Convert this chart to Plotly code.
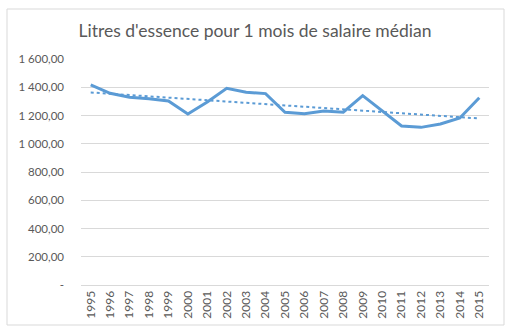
import numpy as np
import plotly.graph_objects as go

years = [str(y) for y in range(1995, 2016)]
litres = [1416, 1357, 1329, 1319, 1303, 1211, 1295, 1392, 1364, 1355, 1223, 1213,
          1232, 1223, 1341, 1232, 1126, 1116, 1140, 1182, 1326]
ytick_vals = [0, 200, 400, 600, 800, 1000, 1200, 1400, 1600]
ytick_text = ["-", "200,00", "400,00", "600,00", "800,00", "1 000,00", "1 200,00", "1 400,00", "1 600,00"]
title = "Litres d'essence pour 1 mois de salaire médian"

idx = np.arange(len(litres))
coef = np.polyfit(idx, litres, 1)
trend = np.polyval(coef, idx)

W, H = 517, 334
ml, mr, mt, mb = 81, 28, 59, 49
pw, ph = W - ml - mr, H - mt - mb

fig = go.Figure()
fig.add_trace(go.Scatter(x=years, y=litres, mode="lines",
                         line=dict(color="#5B9BD5", width=3), showlegend=False))
fig.add_trace(go.Scatter(x=years, y=trend, mode="lines",
                         line=dict(color="#5B9BD5", width=2, dash="dot"), showlegend=False))

def px(x):
    return (x - ml) / pw

def py(y):
    return (H - mb - y) / ph

fig.add_shape(type="rect", xref="paper", yref="paper",
              x0=px(7), x1=px(504), y0=py(325), y1=py(9),
              line=dict(color="#D9D9D9", width=1), layer="below")

fig.update_layout(
    width=W, height=H,
    margin=dict(l=ml, r=mr, t=mt, b=mb),
    paper_bgcolor="white", plot_bgcolor="white",
    font=dict(family="Lato, Calibri, sans-serif", color="#595959", size=12),
    title=dict(text=title, x=255 / W, xref="container", xanchor="center",
               y=1 - 31 / H, yanchor="middle",
               font=dict(size=17.5, color="#595959")),
)
fig.update_xaxes(type="category", tickangle=-90, showgrid=False,
                 showline=True, linecolor="#D9D9D9", linewidth=1,
                 ticks="", tickfont=dict(size=12, color="#595959"),
                 range=[-0.5, len(years) - 0.5])
fig.update_yaxes(range=[0, 1600], tickvals=ytick_vals, ticktext=ytick_text,
                 showgrid=True, gridcolor="#D9D9D9", gridwidth=1,
                 zeroline=False, showline=False, ticks="",
                 ticklabelstandoff=16,
                 tickfont=dict(size=11.5, color="#595959"))

fig.write_html("out.html")
